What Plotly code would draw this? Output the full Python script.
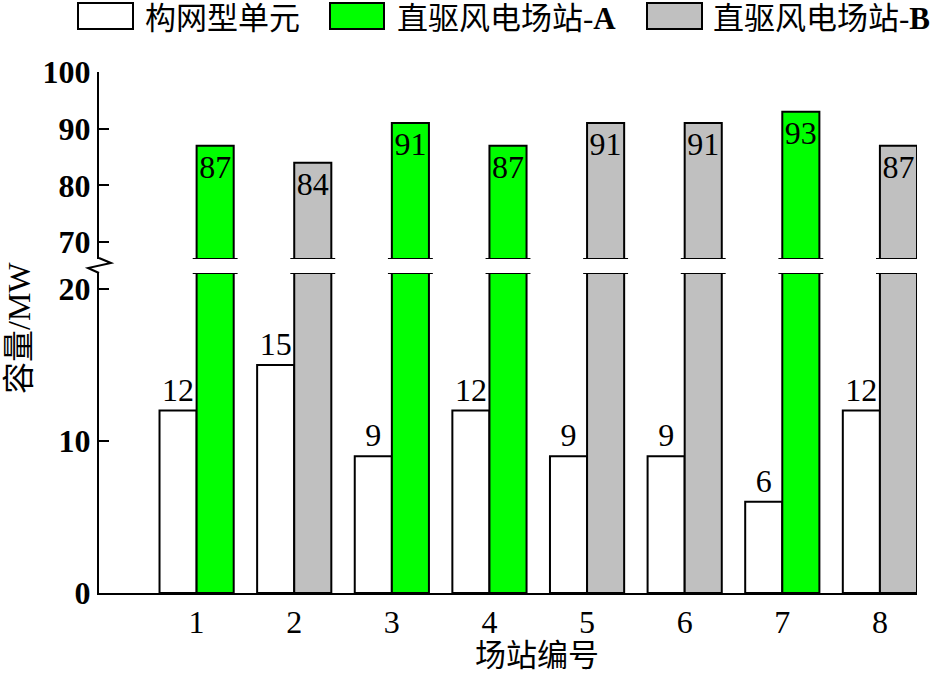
import plotly.graph_objects as go

# data
stations = [1, 2, 3, 4, 5, 6, 7, 8]
unit_cap = [12, 15, 9, 12, 9, 9, 6, 12]                 # 构网型单元
wind_a = [87, None, 91, 87, None, None, 93, None]       # 直驱风电场站-A
wind_b = [None, 84, None, None, 91, 91, None, 87]       # 直驱风电场站-B
y_low_ticks = [0, 10, 20]
y_high_ticks = [70, 80, 90, 100]

names = ['构网型单元', '直驱风电场站-<b>A</b>', '直驱风电场站-<b>B</b>']
colors = ['#FFFFFF', '#00FF00', '#C0C0C0']

W, H = 949, 674
ml, mr, mt, mb = 99, 32, 72, 81
pw, ph = W - ml - mr, H - mt - mb

def px(x):
    return (x - ml) / pw

def py(y):
    return (H - mb - y) / ph

low_top = 21.05
high_bot = 67
bw = 0.38
FONT = 'Liberation Serif, Times New Roman, Noto Sans CJK SC'
CJK = 'Liberation Serif, Noto Sans CJK SC'

fig = go.Figure()
line = dict(color='black', width=2)

# lower panel
fig.add_trace(go.Bar(x=stations, y=unit_cap, width=bw, offset=-bw,
                     marker=dict(color=colors[0], line=line),
                     text=unit_cap, textposition='outside',
                     textfont=dict(size=32, family=FONT, color='black'),
                     cliponaxis=False, showlegend=False, name='构网型单元'))
fig.add_trace(go.Bar(x=stations, y=wind_a, width=bw, offset=0,
                     marker=dict(color=colors[1], line=line),
                     showlegend=False, name='直驱风电场站-A'))
fig.add_trace(go.Bar(x=stations, y=wind_b, width=bw, offset=0,
                     marker=dict(color=colors[2], line=line),
                     showlegend=False, name='直驱风电场站-B'))

# upper panel
for vals, col, nm in [(wind_a, colors[1], '直驱风电场站-A'),
                      (wind_b, colors[2], '直驱风电场站-B')]:
    fig.add_trace(go.Bar(x=stations, y=vals, width=bw, offset=0,
                         xaxis='x2', yaxis='y2',
                         marker=dict(color=col, line=line),
                         text=vals, textposition='inside', insidetextanchor='end',
                         textfont=dict(size=32, family=FONT, color='black'),
                         showlegend=False, name=nm))

# break caps on the tall bars
shapes = []
for s, a, b in zip(stations, wind_a, wind_b):
    if a is None and b is None:
        continue
    shapes.append(dict(type='line', xref='x', yref='y', x0=s - 0.04, x1=s + bw + 0.04,
                       y0=low_top, y1=low_top, line=line, layer='above'))
    shapes.append(dict(type='line', xref='x', yref='y2', x0=s - 0.04, x1=s + bw + 0.04,
                       y0=high_bot, y1=high_bot, line=line, layer='above'))

# zigzag on the y axis
zz = [(99, 258), (111, 263), (88, 268), (99, 273)]
path = 'M ' + ' L '.join('{},{}'.format(px(x), py(y)) for x, y in zz)
shapes.append(dict(type='path', xref='paper', yref='paper', path=path,
                   line=line, layer='above'))

# legend drawn by hand (big boxes like the original)
legend_boxes = [(78, 133), (330, 384), (647, 702)]
legend_text_x = [143, 395, 711]
annotations = []
for (x0, x1), tx, nm, col in zip(legend_boxes, legend_text_x, names, colors):
    shapes.append(dict(type='rect', xref='paper', yref='paper',
                       x0=px(x0), x1=px(x1), y0=py(29), y1=py(3),
                       fillcolor=col, line=line))
    annotations.append(dict(xref='paper', yref='paper', x=px(tx), y=py(18),
                            xanchor='left', yanchor='middle', text=nm, showarrow=False,
                            font=dict(size=31, family=CJK, color='black')))

annotations.append(dict(xref='paper', yref='paper', x=px(537), y=py(655),
                        xanchor='center', yanchor='middle', text='场站编号',
                        showarrow=False, font=dict(size=31, family=CJK, color='black')))
annotations.append(dict(xref='paper', yref='paper', x=px(19), y=py(328),
                        xanchor='center', yanchor='middle', text='容量/MW', textangle=-90,
                        showarrow=False, font=dict(size=32, family=CJK, color='black')))

d_split_low = (H - mb - 273) / ph
d_split_high = (H - mb - 259) / ph

fig.update_layout(
    width=W, height=H,
    margin=dict(l=ml, r=mr, t=mt, b=mb),
    plot_bgcolor='white', paper_bgcolor='white',
    showlegend=False,
    uniformtext=dict(minsize=32, mode='show'),
    font=dict(family=FONT, size=32, color='black'),
    xaxis=dict(range=[0, 8 + bw], tickvals=stations, ticks='', showline=True,
               linecolor='black', linewidth=2, showgrid=False, zeroline=False,
               anchor='y', tickfont=dict(size=32, family=FONT)),
    xaxis2=dict(matches='x', anchor='y2', visible=False, showgrid=False),
    yaxis=dict(domain=[0, d_split_low], range=[0, low_top], tickvals=y_low_ticks,
               ticks='inside', ticklen=10, tickwidth=2, tickcolor='black',
               showline=True, linecolor='black', linewidth=2,
               showgrid=False, zeroline=False,
               tickfont=dict(size=32, family=FONT, weight='bold')),
    yaxis2=dict(domain=[d_split_high, 1], range=[high_bot, 100], tickvals=y_high_ticks,
                ticks='inside', ticklen=10, tickwidth=2, tickcolor='black',
                showline=True, linecolor='black', linewidth=2,
                showgrid=False, zeroline=False, anchor='x2',
                tickfont=dict(size=32, family=FONT, weight='bold')),
    shapes=shapes,
    annotations=annotations,
)

fig.write_html("out.html", config={'displayModeBar': False},
               post_script="document.body.style.margin='0';")
